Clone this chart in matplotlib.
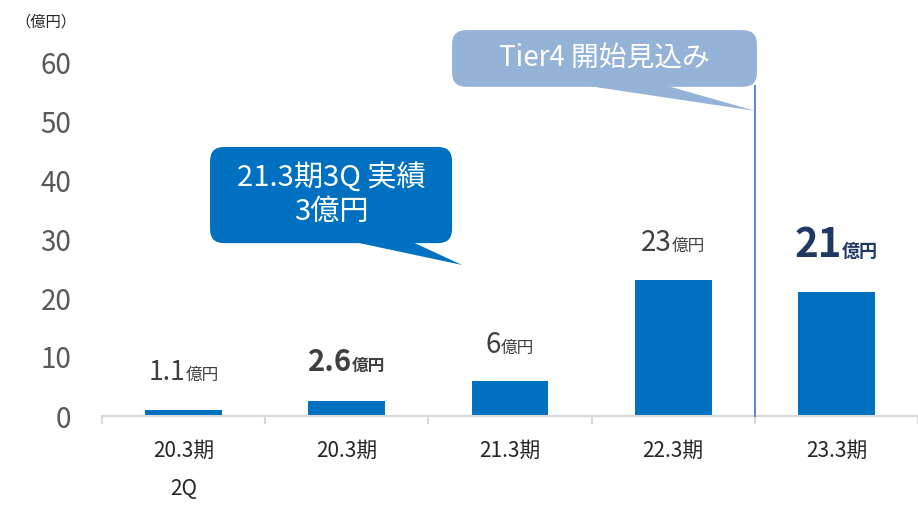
import matplotlib
matplotlib.use("Agg")
import matplotlib.pyplot as plt
from matplotlib.patches import FancyBboxPatch, Polygon
from matplotlib.transforms import IdentityTransform
from matplotlib.offsetbox import TextArea, HPacker, AnnotationBbox

plt.rcParams["font.family"] = ["Noto Sans CJK JP", "DejaVu Sans"]

# 売上高（億円）
periods = ["20.3期\n2Q", "20.3期", "21.3期", "22.3期", "23.3期"]
sales = [1.1, 2.6, 6, 23, 21]
sales_text = ["1.1", "2.6", "6", "23", "21"]
unit = "億円"
y_ticks = [0, 10, 20, 30, 40, 50, 60]

BAR = "#0070C0"
DARK = "#404040"
NAVY = "#1F3864"
AXIS = "#D9D9D9"
LIGHT = "#95B3D7"

fig = plt.figure(figsize=(9.18, 5.05), dpi=100)
ax = fig.add_axes([102 / 918, 89 / 505, 816 / 918, 354 / 505])

x = range(len(periods))
ax.bar(x, sales, width=0.47, color=BAR, zorder=2)
ax.set_xlim(-0.5, len(periods) - 0.5)
ax.set_ylim(0, 60)

# spines / ticks
for s in ("left", "right", "top"):
    ax.spines[s].set_visible(False)
ax.spines["bottom"].set_color(AXIS)
ax.spines["bottom"].set_linewidth(1.5)

ax.set_yticks(y_ticks)
ax.tick_params(axis="y", length=0, pad=22, labelsize=20, labelcolor="#595959")
for t in ax.get_yticklabels():
    t.set_verticalalignment("center_baseline")

ax.set_xticks([i - 0.5 for i in range(len(periods) + 1)])
ax.set_xticklabels([])
ax.tick_params(axis="x", which="major", length=6, width=1.5, color=AXIS)
ax.set_xticks(list(x), minor=True)
ax.set_xticklabels(periods, minor=True)
ax.tick_params(axis="x", which="minor", length=0, pad=17, labelsize=15,
               labelcolor="#262626")
for t in ax.get_xticklabels(minor=True):
    t.set_verticalalignment("top")
    t.set_linespacing(1.95)

fig.text(15 / 918, 1 - 22 / 505, "（億円）", fontsize=11, color="#262626",
         va="center", ha="left")

# value labels above bars
label_style = [
    dict(size=19, weight="normal", color=DARK, usize=12, off=17),
    dict(size=21, weight="bold", color=DARK, usize=12, off=17),
    dict(size=20, weight="normal", color=DARK, usize=12, off=15),
    dict(size=20, weight="normal", color=DARK, usize=12, off=16),
    dict(size=29, weight="bold", color=NAVY, usize=13, off=19),
]
for i, (v, txt, st) in enumerate(zip(sales, sales_text, label_style)):
    num = TextArea(txt, textprops=dict(fontsize=st["size"], fontweight=st["weight"],
                                       color=st["color"]))
    suf = TextArea(unit, textprops=dict(fontsize=st["usize"], fontweight=st["weight"],
                                        color=st["color"]))
    pack = HPacker(children=[num, suf], align="baseline", pad=0, sep=0)
    ab = AnnotationBbox(pack, (i, v), xybox=(0, st["off"]), xycoords="data",
                        boxcoords="offset points", box_alignment=(0.5, 0),
                        frameon=False, pad=0)
    ax.add_artist(ab)


def callout(box, base, tip, color, text, size):
    """Rounded speech bubble; coordinates given in data units."""
    (x0, y0), (x1, y1) = ax.transData.transform(box)
    bx0, bx1 = ax.transData.transform([(base[0], 0), (base[1], 0)])[:, 0]
    tx, ty = ax.transData.transform(tip)
    bubble = FancyBboxPatch((x0, y0), x1 - x0, y1 - y0,
                            boxstyle="round,pad=0,rounding_size=14",
                            fc=color, ec="none", transform=IdentityTransform(),
                            zorder=5, clip_on=False)
    tail = Polygon([(bx0, y0 + 2), (bx1, y0 + 2), (tx, ty)], closed=True,
                   fc=color, ec="none", transform=IdentityTransform(),
                   zorder=5, clip_on=False)
    ax.add_artist(tail)
    ax.add_artist(bubble)
    ax.text((box[0][0] + box[1][0]) / 2, (box[0][1] + box[1][1]) / 2, text,
            ha="center", va="center", color="white", fontsize=size,
            linespacing=1.15, zorder=6, clip_on=False)


# Tier4 marker line between 22.3期 and 23.3期
ax.plot([3.5, 3.5], [0, 56], color="#4F81BD", lw=1.3, zorder=3, clip_on=False)

callout(((0.162, 29.3), (1.645, 45.6)), (1.02, 1.39), (1.706, 25.6),
        BAR, "21.3期3Q 実績\n3億円", 21)
callout(((1.645, 55.8), (3.513, 65.4)), (2.43, 2.94), (3.505, 51.7),
        LIGHT, "Tier4 開始見込み", 20)

fig.savefig("out.png", dpi=100)
